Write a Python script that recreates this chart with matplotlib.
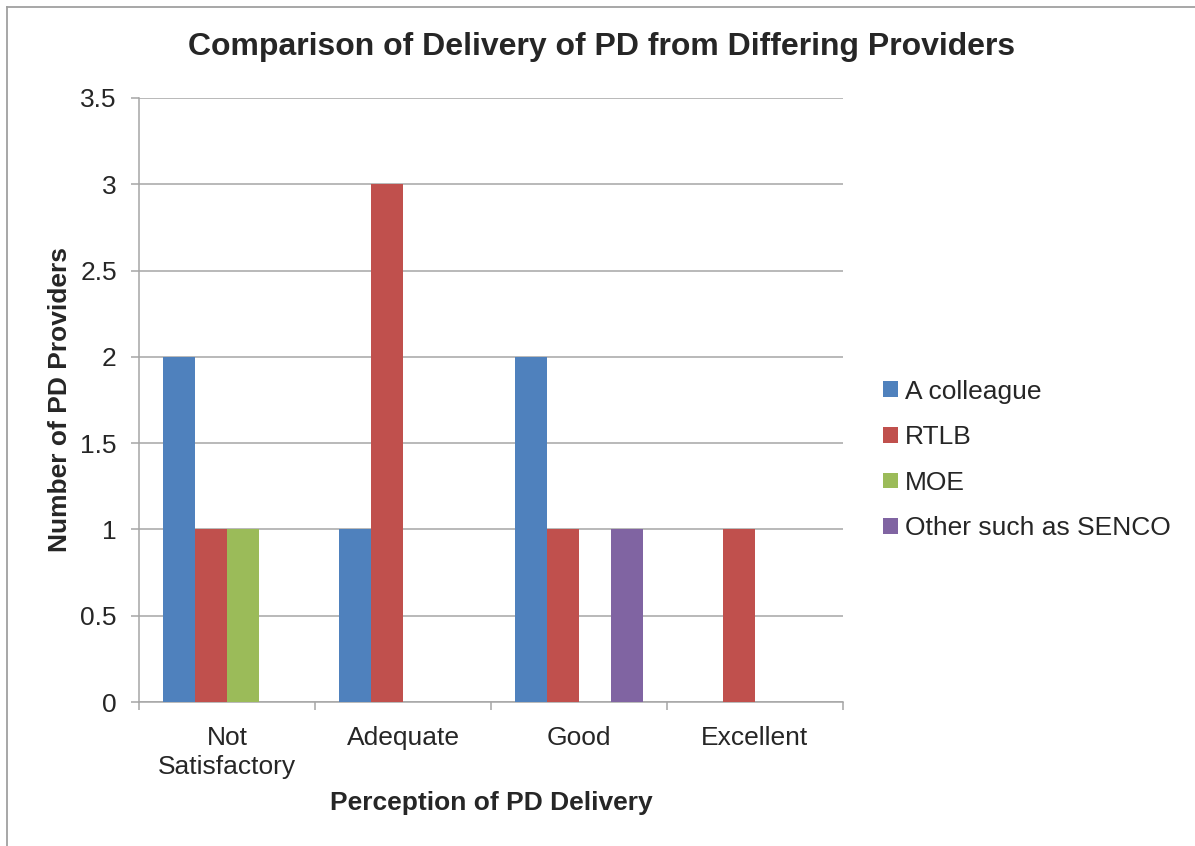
"""
Grouped bar chart: comparison of delivery of PD from differing providers.
"""
import matplotlib
matplotlib.use("Agg")
import matplotlib.pyplot as plt
import numpy as np
from matplotlib.lines import Line2D


categories = ["Not\nSatisfactory", "Adequate", "Good", "Excellent"]
series_names = ["A colleague", "RTLB", "MOE", "Other such as SENCO"]
colleague = [2, 1, 2, 0]
rtlb = [1, 3, 1, 1]
moe = [1, 0, 0, 0]
other = [0, 0, 1, 0]
y_ticks = [0, 0.5, 1, 1.5, 2, 2.5, 3, 3.5]
y_tick_labels = ["0", "0.5", "1", "1.5", "2", "2.5", "3", "3.5"]

COLORS = ["#4F81BD", "#C0504D", "#9BBB59", "#8064A2"]
TEXT_COLOR = "#262626"
GRID_COLOR = "#A6A6A6"

plt.rcParams["font.family"] = ["Liberation Sans", "DejaVu Sans"]

if __name__ == "__main__":
    figure = plt.figure(figsize=(11.95, 8.46), dpi=100)
    ax = figure.add_axes([0.1163, 0.1702, 0.7054 - 0.1163, 0.8842 - 0.1702])

    x = np.arange(len(categories))
    bar_width = 0.1816
    all_series = [colleague, rtlb, moe, other]
    for index, (name, values) in enumerate(zip(series_names, all_series)):
        offset = (index - 1.5) * bar_width
        ax.bar(x + offset, values, bar_width, color=COLORS[index], label=name, zorder=3)

    ax.set_xlim(-0.5, len(categories) - 0.5)
    ax.set_ylim(0, 3.5)
    ax.set_yticks(y_ticks)
    ax.set_yticklabels(y_tick_labels)
    ax.set_xticks(x)
    ax.set_xticklabels(categories, linespacing=1.27)
    ax.set_xticks(np.arange(-0.5, len(categories), 1.0), minor=True)

    ax.yaxis.grid(True, color=GRID_COLOR, linewidth=1.1, zorder=0)
    ax.set_axisbelow(True)
    for side in ["top", "right"]:
        ax.spines[side].set_visible(False)
    for side in ["left", "bottom"]:
        ax.spines[side].set_color(GRID_COLOR)
        ax.spines[side].set_linewidth(1.1)

    ax.tick_params(axis="y", length=6, color=GRID_COLOR, width=1.1, pad=10,
                   labelsize=19, labelcolor=TEXT_COLOR)
    ax.tick_params(axis="x", which="major", length=0, pad=17,
                   labelsize=19, labelcolor=TEXT_COLOR)
    ax.tick_params(axis="x", which="minor", length=6, color=GRID_COLOR, width=1.1)

    ax.set_xlabel("Perception of PD Delivery", fontsize=19, fontweight="bold",
                  color=TEXT_COLOR, labelpad=9)
    ax.set_ylabel("Number of PD Providers", fontsize=19, fontweight="bold",
                  color=TEXT_COLOR, labelpad=6)

    figure.text(602 / 1195, 1 - 47 / 846, "Comparison of Delivery of PD from Differing Providers",
                fontsize=23, fontweight="bold", color=TEXT_COLOR, ha="center", va="center")

    ax.legend(loc="center left", bbox_to_anchor=(883 / 1195, 1 - 460 / 846),
              bbox_transform=figure.transFigure, frameon=False, fontsize=19,
              handlelength=0.55, handleheight=0.55, handletextpad=0.28,
              labelspacing=0.82, labelcolor=TEXT_COLOR, borderaxespad=0,
              borderpad=0)

    # chart area border (left and top edges visible in the reference)
    figure.add_artist(Line2D([7 / 1195, 7 / 1195], [0, 1 - 7 / 846],
                             transform=figure.transFigure, color="#A0A0A0", linewidth=1.3))
    figure.add_artist(Line2D([7 / 1195, 1], [1 - 7 / 846, 1 - 7 / 846],
                             transform=figure.transFigure, color="#A0A0A0", linewidth=1.3))

    figure.savefig("out.png", dpi=100)
    plt.close(figure)
